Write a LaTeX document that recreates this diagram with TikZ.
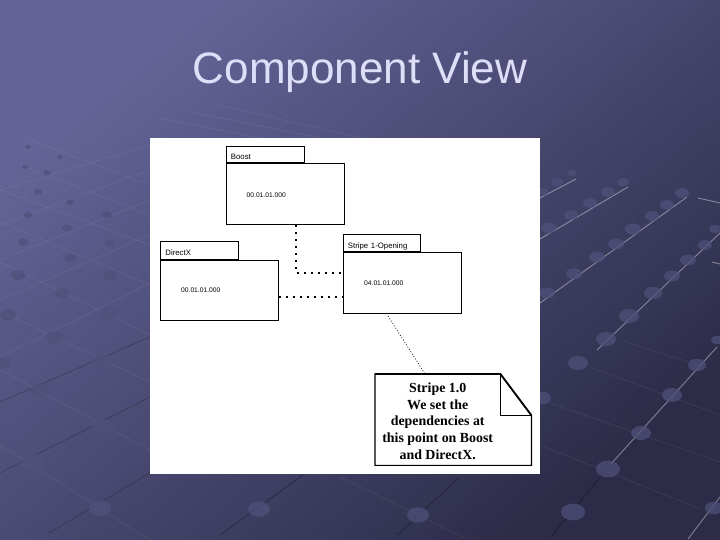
\documentclass[tikz,border=0pt]{standalone}
\usepackage{fontspec}
\setmainfont{Liberation Serif}
\setsansfont{Liberation Sans}
\usetikzlibrary{arrows,positioning}
\definecolor{slidetop}{HTML}{646498}
\definecolor{slidebottom}{HTML}{2C2C48}
\definecolor{titletext}{HTML}{DEDEF8}
\definecolor{knob}{HTML}{50507A}
\tikzset{
    %Define style for the package body
    pkgbody/.style={
        rectangle,
        draw, line width=0.9pt,
        fill=white,
        inner sep=0pt},
    %Define style for the package tab
    pkgtab/.style={
        rectangle,
        draw, line width=0.9pt,
        fill=white,
        inner sep=0pt,
        inner xsep=5pt,
        align=left,
        text height=10pt,
        text depth=0pt,
        font=\sffamily\fontsize{7.8}{9}\selectfont},
    version/.style={
        inner sep=0pt,
        font=\sffamily\fontsize{6.7}{8}\selectfont},
    % Define connector styles
    dep/.style={
        line width=1.7pt,
        dash pattern=on 2pt off 5pt},
    notelink/.style={
        line width=0.6pt,
        dash pattern=on 1pt off 1.8pt},
    % Define background styles
    glow/.style={white, line width=0.7pt, opacity=0.07},
    gleam/.style={white, line width=0.9pt, opacity=0.4},
    gridshade/.style={black, line width=0.8pt, opacity=0.3},
    knobstyle/.style={fill=knob, opacity=0.75}
}
\begin{document}
\begin{tikzpicture}[x=1pt, y=-1pt, node distance=0pt]
    \useasboundingbox (0,0) rectangle (720,540);
    %background
    \shade[top color=slidetop, bottom color=slidebottom, shading angle=40] (0,0) rectangle (720,540);
    % faint lines of the floor
    \foreach \xa/\ya/\xb/\yb in {
        0/357/150/283, 0/402/150/337, 0/473/150/397, 49/533/150/473,
        0/300/150/235, 0/260/150/200, 0/225/150/170, 0/190/150/145,
        8/315/150/382, 0/370/150/450, 0/445/150/540, 0/262/150/335,
        0/222/150/285, 0/190/150/245, 20/165/150/215, 30/140/150/185,
        340/477/465/538, 540/445/703/510, 620/340/707/368, 590/367/720/415,
        550/403/720/462, 210/103/370/140, 190/112/340/142, 160/118/280/142}
        \draw[glow] (\xa,\ya) -- (\xb,\yb);
    % dark lines
    \foreach \xa/\ya/\xb/\yb in {
        0/473/150/397, 49/533/150/473, 0/402/150/337, 220/535/303/475,
        397/535/460/477, 551/537/610/465}
        \draw[gridshade] (\xa,\ya) -- (\xb,\yb);
    % bright lines on the right
    \foreach \xa/\ya/\xb/\yb in {
        540/198/576/179, 540/239/628/187, 540/303/687/197, 597/350/720/233,
        610/465/717/347, 688/539/720/497, 698/198/720/203, 712/262/720/264}
        \draw[gleam] (\xa,\ya) -- (\xb,\yb);
    % knobs of the floor
    \foreach \x/\y/\r in {
        572/173/5, 557/182/6, 542/192/6, 623/182/6, 608/192/7, 590/203/7,
        571/215/7, 549/228/8, 682/193/7, 667/205/7, 652/216/7, 633/229/8,
        616/244/8, 597/257/8, 574/274/8, 547/293/8, 715/229/6, 705/245/7,
        688/260/8, 672/276/8, 653/293/9, 629/316/10, 606/339/10, 578/363/10,
        542/398/9, 717/340/6, 697/365/9, 672/395/10, 641/433/10, 608/469/12,
        573/512/12, 714/508/9, 418/515/11, 259/509/11, 100/508/11, 32/462/11,
        102/426/10, 40/390/10, 3/363/8, 103/360/9, 55/337/9, 8/315/8,
        108/313/8, 62/293/7, 110/275/7, 18/275/7, 70/258/6, 110/243/5,
        23/242/5, 67/228/5, 107/215/5, 28/215/4, 70/202/4, 38/192/4,
        47/173/4, 25/167/3, 60/157/3, 28/147/3}
        \fill[knobstyle] (\x,\y) ellipse ({\r} and {0.7*\r});
    %title
    \node[font=\sffamily\fontsize{44}{50}\selectfont, text=titletext, inner sep=0pt] (title) at (360,72) {Component View};
    %panel
    \node[fill=white, inner sep=0pt, minimum width=390pt, minimum height=336pt, anchor=north west] (panel) at (150,138) {};
    %nodes
    \node[pkgbody, minimum width=118pt, minimum height=61pt, anchor=north west] (boost) at (225.5,163) {};
    \node[pkgtab, minimum width=78pt, minimum height=16.5pt, text width=68pt, above right=0pt and 0pt of boost.north west] (boosttab) {Boost};
    \node[version, below right=30pt and 21pt of boost.north west] (boostver) {00.01.01.000};
    \node[pkgbody, minimum width=117.5pt, minimum height=60pt, anchor=north west] (directx) at (160,259.5) {};
    \node[pkgtab, minimum width=78pt, minimum height=17.5pt, text width=68pt, above right=0pt and 0pt of directx.north west] (directxtab) {DirectX};
    \node[version, below right=28pt and 21pt of directx.north west] (directxver) {00.01.01.000};
    \node[pkgbody, minimum width=118.5pt, minimum height=60.5pt, anchor=north west] (stripe) at (342.5,252) {};
    \node[pkgtab, minimum width=77pt, minimum height=17pt, text width=67pt, above right=0pt and 0pt of stripe.north west] (stripetab) {Stripe 1-Opening};
    \node[version, below right=29pt and 21.5pt of stripe.north west] (stripever) {04.01.01.000};
    % the note, its text sits left of the folded corner
    \node[inner sep=0pt, minimum width=125pt, minimum height=91pt, anchor=north west] (note) at (375,374) {};
    \node[inner sep=0pt, align=center, yshift=-1.5pt, font=\bfseries\fontsize{13.9}{16.7}\selectfont] (notetext) at (note.center)
        {Stripe 1.0\\We set the\\dependencies at\\this point on Boost\\and DirectX.};
    \coordinate (notecorner) at (531.5,415.5);
    \draw[line width=1.1pt, line join=miter] (note.north west) -- (note.north east) -- (notecorner) -- (notecorner |- note.south) -- (note.south west) -- cycle;
    \draw[line width=1.4pt] (note.north east) -- (note.east |- notecorner) -- (notecorner);
    \draw[line width=1.8pt] (note.north west) -- (note.north east) -- (notecorner);
    %connectors
    \coordinate (boostbend) at (296,273);
    \coordinate (directxout) at (278.5,297);
    \coordinate (linkstart) at (388,316);
    \coordinate (linkend) at (425,374);
    \draw[dep] (boost.south -| boostbend) -- (boostbend) -- (boostbend -| stripe.west);
    \draw[dep] (directxout) -- (directxout -| stripe.west);
    \draw[notelink] (linkstart) -- (linkend);
\end{tikzpicture}
\end{document}
